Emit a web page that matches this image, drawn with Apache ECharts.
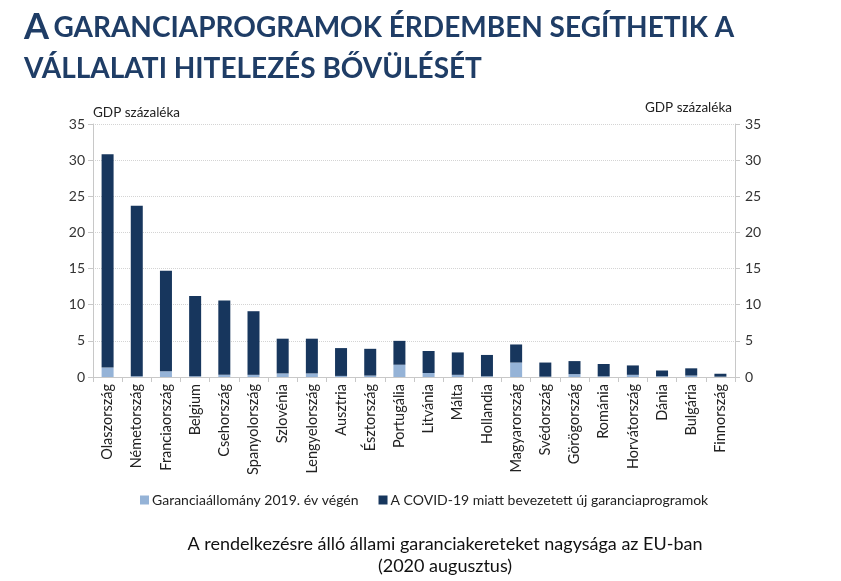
<!DOCTYPE html>
<html><head><meta charset="utf-8">
<script src="https://cdn.jsdelivr.net/npm/echarts@6/dist/echarts.min.js"></script>
<style>html,body{margin:0;padding:0;background:#fff}#c{width:841px;height:581px}</style>
</head><body><div id="c"></div>
<script>
var categories = ['Olaszország','Németország','Franciaország','Belgium','Csehország','Spanyolország','Szlovénia','Lengyelország','Ausztria','Észtország','Portugália','Litvánia','Málta','Hollandia','Magyarország','Svédország','Görögország','Románia','Horvátország','Dánia','Bulgária','Finnország'];
var stock2019 = [1.3,0.1,0.8,0.1,0.3,0.3,0.5,0.5,0.15,0.2,1.7,0.55,0.3,0.1,2.0,0.05,0.4,0.1,0.3,0.1,0.2,0.05];
var totals = [30.8,23.7,14.7,11.2,10.6,9.1,5.3,5.3,4.0,3.9,5.0,3.6,3.4,3.05,4.5,2.0,2.2,1.8,1.6,0.9,1.2,0.45];
var covidNew = totals.map(function(t,i){ return +(t - stock2019[i]).toFixed(2); });
var seriesNames = ['Garanciaállomány 2019. év végén','A COVID-19 miatt bevezetett új garanciaprogramok'];
var yTicks = {min:0, max:35, interval:5};

var chart = echarts.init(document.getElementById('c'), null, {renderer:'canvas'});
var font = 'Lato, "Open Sans", sans-serif';
var axisCommon = {
  type:'value', min:yTicks.min, max:yTicks.max, interval:yTicks.interval,
  axisLine:{show:true, lineStyle:{color:'#c8c8c8'}},
  axisTick:{show:true, length:5, lineStyle:{color:'#c8c8c8'}},
  axisLabel:{color:'#333', fontSize:14, fontFamily:font},
};
chart.setOption({
  animation:false,
  textStyle:{fontFamily:font},
  title:[{
    left:19, top:2,
    text:'{b|A} {s|GARANCIAPROGRAMOK ÉRDEMBEN SEGÍTHETIK A}\n{s|VÁLLALATI HITELEZÉS BŐVÜLÉSÉT}',
    textStyle:{rich:{
      b:{fontSize:36, fontWeight:'bold', color:'#1f3d66', fontFamily:font, lineHeight:41},
      s:{fontSize:28, fontWeight:'bold', color:'#1f3d66', fontFamily:font, lineHeight:41}
    }}
  }],
  graphic:[{
    type:'text', x:445, y:533,
    style:{
      text:'A rendelkezésre álló állami garanciakereteket nagysága az EU-ban\n(2020 augusztus)',
      align:'center', verticalAlign:'top', fontSize:18, fontFamily:font, fill:'#111', lineHeight:22
    }
  }],
  legend:{
    left:135, top:488, itemWidth:9, itemHeight:9, itemGap:20, icon:'rect',
    textStyle:{fontSize:14, color:'#222', fontFamily:font, padding:[0,0,0,-2]},
    data:seriesNames
  },
  grid:{left:93, right:106, top:124, bottom:204, containLabel:false},
  xAxis:{
    type:'category', data:categories,
    axisLine:{lineStyle:{color:'#c8c8c8'}},
    axisTick:{show:true, length:5, alignWithLabel:false, lineStyle:{color:'#c8c8c8'}},
    axisLabel:{rotate:90, fontSize:14.5, color:'#222', margin:7, interval:0, fontFamily:font}
  },
  yAxis:[
    Object.assign({}, axisCommon, {position:'left', name:'GDP százaléka', nameLocation:'end', nameGap:4,
      nameTextStyle:{color:'#222', fontSize:13.5, fontFamily:font, align:'left'},
      splitLine:{show:true, lineStyle:{color:'#d4d4d4', type:'dotted'}}}),
    Object.assign({}, axisCommon, {position:'right', name:'GDP százaléka', nameLocation:'end', nameGap:9,
      nameTextStyle:{color:'#222', fontSize:13.5, fontFamily:font, align:'right', padding:[0,3,0,0]},
      axisLabel:{color:'#333', fontSize:14, fontFamily:font, margin:10},
      splitLine:{show:false}})
  ],
  series:[
    {name:seriesNames[0], type:'bar', stack:'a', data:stock2019, barWidth:12, yAxisIndex:0,
     itemStyle:{color:'#95b3d7'}},
    {name:seriesNames[1], type:'bar', stack:'a', data:covidNew, barWidth:12, yAxisIndex:0,
     itemStyle:{color:'#17365d'}}
  ]
});
</script></body></html>
